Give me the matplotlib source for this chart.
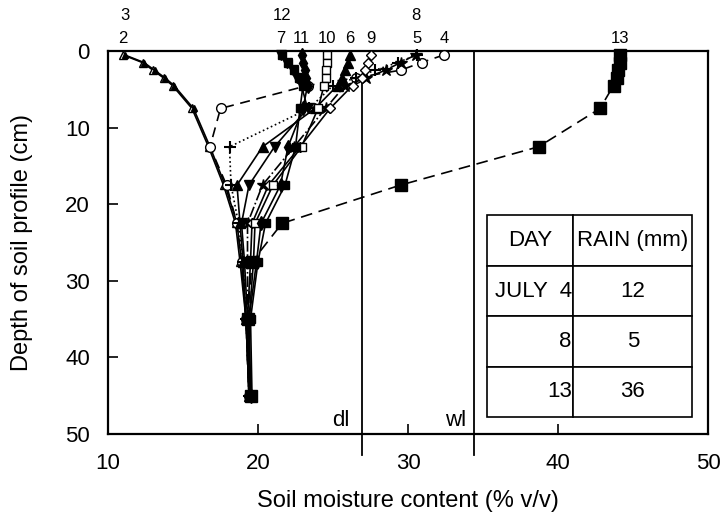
import numpy as np
import matplotlib
matplotlib.use("Agg")
import matplotlib.pyplot as plt

plt.rcParams['font.family'] = ['Liberation Sans', 'DejaVu Sans']

# depths (cm) of the readings
depth = [0.5, 1.5, 2.5, 3.5, 4.5, 7.5, 12.5, 17.5, 22.5, 27.5, 35, 45]

# soil moisture (% v/v) per day of July
day2 = [11.0, 12.3, 13.0, 13.7, 14.3, 15.6, 16.7, 17.7, 18.5, 18.8, 19.2, 19.4]
day3 = [11.1, 12.4, 13.1, 13.8, 14.4, 15.7, 16.8, 17.8, 18.6, 18.9, 19.2, 19.4]
day4 = [32.4, 30.9, 29.5, 26.5, 23.3, 17.5, 16.8, 17.9, 18.6, 18.9, 19.2, 19.4]
day5 = [30.6, 29.3, 27.8, 26.5, 25.0, 23.4, 18.1, 18.2, 18.7, 19.0, 19.2, 19.4]
day6 = [26.1, 26.0, 25.8, 25.6, 25.3, 23.8, 20.3, 18.6, 18.8, 19.0, 19.2, 19.4]
day7 = [21.5, 21.9, 22.3, 22.6, 22.9, 23.3, 21.1, 19.4, 18.9, 19.1, 19.3, 19.5]
day8 = [30.5, 29.5, 28.5, 27.2, 25.8, 24.5, 22.4, 20.3, 19.3, 19.3, 19.3, 19.5]
day9 = [27.5, 27.3, 27.1, 26.9, 26.3, 24.8, 22.8, 20.7, 19.6, 19.5, 19.3, 19.5]
day10 = [24.6, 24.6, 24.5, 24.5, 24.4, 24.0, 22.9, 21.0, 19.8, 19.7, 19.4, 19.5]
day11 = [22.9, 23.0, 23.1, 23.2, 23.3, 23.0, 22.0, 21.5, 20.2, 19.9, 19.4, 19.5]
day12 = [21.6, 22.0, 22.4, 22.7, 23.0, 22.8, 22.5, 21.8, 20.5, 20.0, 19.5, 19.6]
day13 = [44.1, 44.1, 44.0, 43.9, 43.7, 42.8, 38.7, 29.5, 21.6, 19.6, 19.3, 19.5]

dl = 26.9   # drained limit
wl = 34.4   # wet limit

table_rows = [["DAY", "RAIN (mm)"],
              ["JULY  4", "12"],
              ["8", "5"],
              ["13", "36"]]

# (label, values, marker, face, size, linestyle, upper-row label)
series = [
    ("2", day2, '^', 'white', 6, '-', False),
    ("3", day3, '^', 'black', 4, '-', True),
    ("4", day4, 'o', 'white', 7, (0, (6, 4)), False),
    ("5", day5, '+', 'black', 9, ':', False),
    ("6", day6, '^', 'black', 7, '-', False),
    ("7", day7, 'v', 'black', 7, '-', False),
    ("8", day8, '*', 'black', 9, '-.', True),
    ("9", day9, 'D', 'white', 5, '-', False),
    ("10", day10, 's', 'white', 6, '-', False),
    ("11", day11, 'd', 'black', 7, '-', False),
    ("12", day12, 's', 'black', 6, '-', True),
    ("13", day13, 's', 'black', 8, (0, (7, 4)), False),
]

fig = plt.figure(figsize=(7.21, 5.21), dpi=100)
ax = fig.add_axes([0.1498, 0.167, 0.8322, 0.735])

for name, vals, mk, face, ms, ls, upper in series:
    ax.plot(vals, depth, color='black', lw=1.2, linestyle=ls, marker=mk,
            markerfacecolor=face, markeredgecolor='black', markersize=ms,
            markeredgewidth=1.5 if mk == '+' else 1.0, clip_on=False, zorder=3)
    ax.text(vals[0], -4.05 if upper else -1.05, name, ha='center', va='baseline',
            fontsize=12)

ax.plot([dl, dl], [3.5, 52.8], color='black', lw=1.3, clip_on=False, zorder=2)
ax.plot([wl, wl], [0, 52.8], color='black', lw=1.3, clip_on=False, zorder=2)
ax.text(26.1, 49.0, 'dl', ha='right', va='baseline', fontsize=16)
ax.text(33.9, 49.0, 'wl', ha='right', va='baseline', fontsize=16)

tbl = ax.table(cellText=table_rows, cellLoc='center', colWidths=[0.42, 0.58],
               bbox=[0.632, 0.044, 0.342, 0.527])
tbl.auto_set_font_size(False)
tbl.set_fontsize(16)
for (r, c), cell in tbl.get_celld().items():
    cell.set_linewidth(1.2)
    cell.PAD = 0.02
    if c == 0 and r > 0:
        cell._loc = 'right'
        cell.get_text().set_horizontalalignment('right')

ax.set_xlim(10, 50)
ax.set_ylim(50, 0)
ax.set_xticks([10, 20, 30, 40, 50])
ax.set_yticks([0, 10, 20, 30, 40, 50])
ax.tick_params(direction='in', length=7, width=1.2, labelsize=16)
ax.tick_params(axis='x', pad=14)
ax.tick_params(axis='y', pad=13)
for sp in ax.spines.values():
    sp.set_linewidth(1.6)

ax.set_xlabel('Soil moisture content (% v/v)', fontsize=17)
ax.set_ylabel('Depth of soil profile (cm)', fontsize=17)
ax.xaxis.set_label_coords(0.5, -0.145)
ax.yaxis.set_label_coords(-0.125, 0.5)

fig.savefig('out.png', dpi=100)
